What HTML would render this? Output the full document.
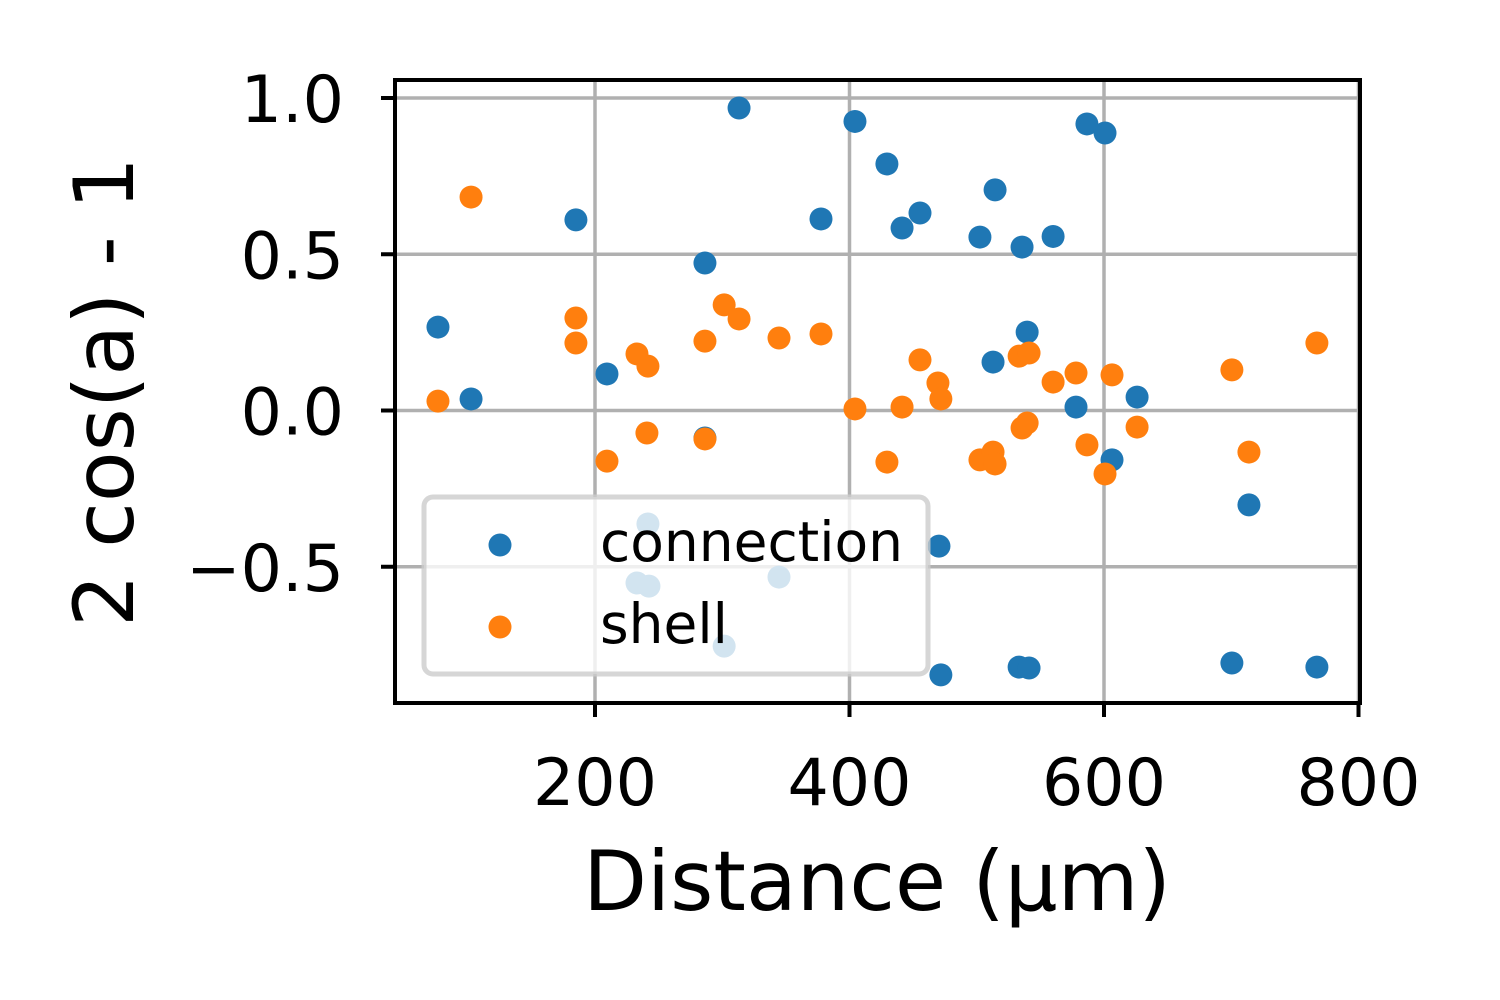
<!DOCTYPE html>
<html><head><meta charset="utf-8"><style>
html,body{margin:0;padding:0;background:#fff;}
svg{display:block;font-family:"DejaVu Sans","Liberation Sans",sans-serif;}
</style></head><body>
<svg id="chart" width="1500" height="1000" viewBox="0 0 1500 1000">
<rect x="0" y="0" width="1500" height="1000" fill="#fff"/>
<g id="grid"></g>
<g id="points"></g>
<rect x="395" y="80" width="965" height="623" fill="none" stroke="#000" stroke-width="4"/>
<g id="ticks"></g>
<text x="877" y="910" font-size="83" text-anchor="middle">Distance (µm)</text>
<text transform="translate(133,392) rotate(-90)" font-size="83" text-anchor="middle">2 cos(a) - 1</text>
<g>
<rect x="424" y="497" width="504" height="177" rx="9" fill="#fff" fill-opacity="0.8" stroke="#cccccc" stroke-opacity="0.8" stroke-width="5"/>
<circle cx="500" cy="545" r="11.5" fill="#1f77b4"/>
<text x="600" y="561" font-size="55">connection</text>
<circle cx="500" cy="627" r="11.5" fill="#ff7f0e"/>
<text x="600" y="643" font-size="55">shell</text>
</g>
</svg>
<script>
const connX=[76.6,102.6,185,209.4,286.4,286.4,313.2,377.6,404.3,429.4,441.3,455.4,502.5,514.4,512.8,535.6,539.6,560,578,586.6,600.8,606.3,626,713.9,700.5,767.3,470.3,471.8,533.3,541.1,241.6,233,242.4,344.6,301.5];
const connY=[0.267,0.037,0.61,0.117,0.472,-0.088,0.968,0.613,0.925,0.789,0.584,0.632,0.555,0.706,0.155,0.523,0.251,0.557,0.011,0.917,0.888,-0.158,0.043,-0.302,-0.808,-0.821,-0.434,-0.846,-0.821,-0.824,-0.363,-0.552,-0.562,-0.533,-0.754];
const shellX=[76.6,102.6,185,185,209.4,233,241.6,240.8,286.4,286.4,301.5,313.2,344.6,377.6,404.3,429.4,441.3,455.4,469.5,471.8,502.5,512.8,514.4,533.3,541.1,535.6,539.6,560,578,586.6,600.8,606.3,626,700.5,713.9,767.3];
const shellY=[0.030,0.683,0.296,0.216,-0.162,0.181,0.142,-0.072,0.222,-0.091,0.338,0.293,0.232,0.245,0.005,-0.165,0.011,0.162,0.088,0.037,-0.158,-0.133,-0.171,0.174,0.184,-0.056,-0.040,0.091,0.120,-0.110,-0.203,0.114,-0.053,0.130,-0.133,0.216];
const xTicks=[200,400,600,800];
const yTicks=[1.0,0.5,0.0,-0.5];
const yTickLabels=["1.0","0.5","0.0","−0.5"];
const NS="http://www.w3.org/2000/svg";
function sx(v){return 340.5+v*1.2725;}
function sy(v){return 410.5-v*312.5;}
function mk(tag,attrs,parent){const e=document.createElementNS(NS,tag);for(const k in attrs)e.setAttribute(k,attrs[k]);parent.appendChild(e);return e;}
const grid=document.getElementById('grid'),ticks=document.getElementById('ticks'),pts=document.getElementById('points');
xTicks.forEach(function(t){
  const x=sx(t);
  if(x<1359){const g=mk('line',{x1:x,x2:x,y1:80,y2:703,stroke:'#b0b0b0','stroke-width':3.5},grid);
  
  }
  const l=mk('line',{x1:x,x2:x,y1:703,y2:717,stroke:'#000','stroke-width':4},ticks);
  
  
  const tx=mk('text',{x:x,y:805,'font-size':65,'text-anchor':'middle'},ticks);tx.textContent=String(t);
  
  
});
yTicks.forEach(function(t,i){
  const y=sy(t);
  const g=mk('line',{x1:395,x2:1360,y1:y,y2:y,stroke:'#b0b0b0','stroke-width':3.5},grid);
  
  
  const l=mk('line',{x1:381,x2:395,y1:y,y2:y,stroke:'#000','stroke-width':4},ticks);
  
  
  const tx=mk('text',{x:344,y:y+24,'font-size':65,'text-anchor':'end'},ticks);tx.textContent=yTickLabels[i];
  
  
});
connX.forEach(function(v,i){
  const c=mk('circle',{cx:sx(v),cy:sy(connY[i]),r:11.5,fill:'#1f77b4'},pts);
  
  
});
shellX.forEach(function(v,i){
  const c=mk('circle',{cx:sx(v),cy:sy(shellY[i]),r:11.5,fill:'#ff7f0e'},pts);
  
  
});
</script>
</body></html>
